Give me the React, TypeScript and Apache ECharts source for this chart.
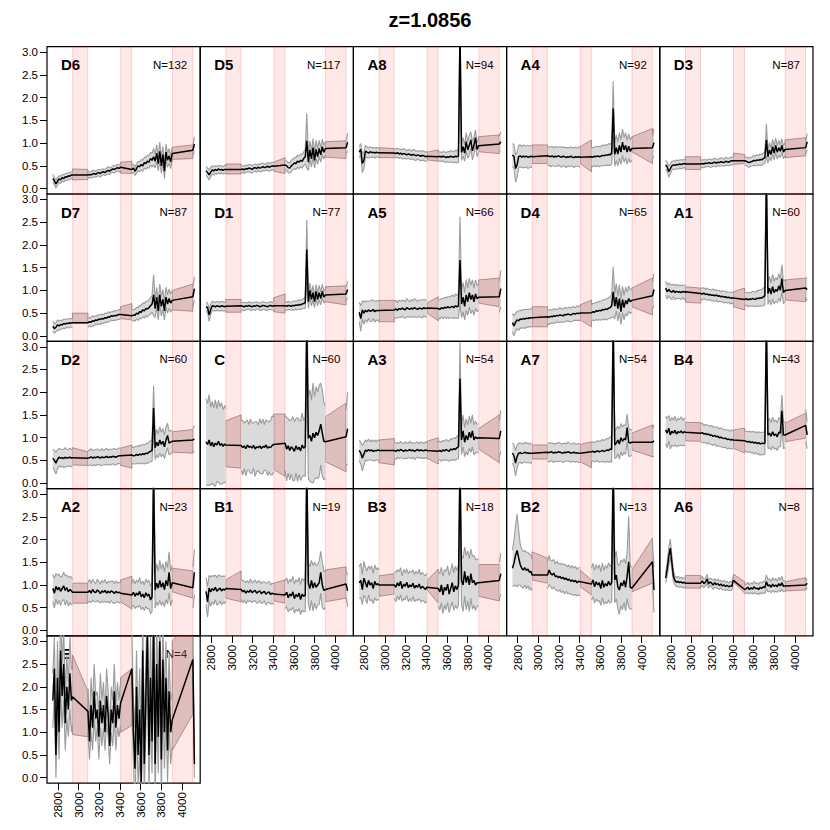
import React, { useEffect, useRef } from "react";
import * as echarts from "echarts";

// ---------- shared axis data ----------
const WAVE = [
  2750, 2765, 2780, 2795, 2810, 2825, 2840, 2855, 2870, 2885, 2900, 2915, 2930, 2940,
  3090, 3105, 3120, 3135, 3150, 3165, 3180, 3195, 3210, 3225, 3240, 3255, 3270, 3285, 3300, 3315, 3330, 3345, 3360, 3375, 3390, 3405,
  3515, 3530, 3545, 3560, 3575, 3590, 3605, 3620, 3635, 3650, 3665, 3680, 3695, 3710, 3725, 3740, 3755, 3770, 3785, 3800, 3815, 3830, 3845, 3860, 3875, 3890, 3905,
  4105, 4120,
];
const GAP_EDGES = [2940, 3090, 3405, 3515, 3905, 4105];
const PINK_BANDS = [[2942, 3087], [3407, 3513], [3907, 4104]];
const X_TICKS = [2800, 3000, 3200, 3400, 3600, 3800, 4000];
const Y_TICKS = [0, 0.5, 1, 1.5, 2, 2.5, 3];
const X_MIN = 2693.5;
const X_MAX = 4176;
const Y_MIN = -0.12;
const Y_MAX = 3.12;
const TITLE = "z=1.0856";

const PANEL_NAMES = ["D6", "D5", "A8", "A4", "D3", "D7", "D1", "A5", "D4", "A1", "D2", "C", "A3", "A7", "B4", "A2", "B1", "B3", "B2", "A6", "E"];
const PANEL_N = [132, 117, 94, 92, 87, 87, 77, 66, 65, 60, 60, 60, 54, 54, 43, 23, 19, 18, 13, 8, 4];

// ---------- per-panel data ----------
const D6_MEAN = [
  .22, .17, .10, .16, .21, .19, .24, .22, .26, .25, .28, .27, .30, .30,
  .30, .31, .30, .32, .33, .31, .34, .35, .33, .36, .37, .35, .38, .40, .38, .41, .43, .42, .44, .46, .44, .47,
  .42, .45, .38, .44, .50, .48, .53, .50, .57, .55, .60, .58, .66, .62, .70, .60, .78, .55, .82, .50, .75, .38, .80, .62, .72, .58, .77,
  .84, .98,
];
const D6_ERR = [
  .09, .08, .09, .08, .07, .08, .07, .08, .07, .08, .07, .08, .07, .07,
  .07, .06, .07, .08, .07, .06, .07, .07, .08, .07, .06, .07, .07, .08, .07, .06, .07, .08, .07, .07, .08, .07,
  .08, .09, .09, .10, .10, .11, .11, .12, .12, .13, .13, .14, .14, .15, .18, .15, .18, .16, .20, .16, .18, .16, .18, .15, .16, .14, .14,
  .12, .16,
];
const D6_BLO = [.19, .20, .34, .33, .64, .66];
const D6_BHI = [.43, .42, .58, .60, .91, .96];

const D5_MEAN = [
  .39, .35, .30, .36, .41, .39, .42, .40, .43, .41, .42, .40, .42, .42,
  .42, .43, .41, .44, .43, .45, .44, .42, .45, .46, .44, .47, .45, .46, .48, .46, .47, .49, .47, .48, .50, .49,
  .52, .50, .46, .45, .50, .53, .56, .55, .60, .58, .62, .60, .66, .70, 1.05, .58, .85, .65, .90, .62, .86, .70, .88, .74, .92, .80, .88,
  .90, 1.02,
];
const D5_ERR = [
  .10, .10, .11, .10, .09, .09, .08, .09, .08, .09, .08, .08, .09, .08,
  .08, .07, .08, .08, .07, .08, .09, .08, .07, .08, .08, .07, .08, .09, .08, .07, .08, .08, .09, .08, .08, .09,
  .10, .10, .11, .11, .12, .12, .12, .13, .13, .14, .14, .15, .15, .16, .60, .18, .20, .18, .20, .17, .20, .17, .18, .16, .17, .15, .15,
  .14, .20,
];
const D5_BLO = [.32, .32, .38, .33, .69, .66];
const D5_BHI = [.54, .54, .58, .68, 1.03, 1.05];

const A8_MEAN = [
  .80, .86, .55, .62, .82, .80, .78, .81, .79, .80, .78, .80, .79, .79,
  .78, .77, .79, .76, .78, .75, .77, .76, .74, .76, .75, .73, .75, .74, .72, .74, .73, .71, .73, .72, .70, .71,
  .70, .71, .69, .71, .70, .68, .70, .69, .71, .70, .69, .71, .70, .72, 3.40, .80, .92, .78, 1.03, .85, .95, 1.07, .83, .95, 1.12, .86, .94,
  .98, 1.03,
];
const A8_ERR = [
  .12, .13, .20, .18, .13, .12, .11, .11, .11, .10, .11, .10, .10, .10,
  .10, .09, .10, .10, .09, .10, .11, .10, .09, .10, .10, .09, .10, .11, .10, .09, .10, .10, .11, .10, .10, .11,
  .10, .10, .10, .10, .11, .11, .11, .12, .12, .12, .12, .13, .13, .14, .50, .18, .20, .18, .20, .18, .22, .18, .20, .18, .17, .16, .15,
  .17, .22,
];
const A8_BLO = [.68, .68, .63, .60, .81, .77];
const A8_BHI = [.90, .88, .80, .85, 1.14, 1.18];

const A4_MEAN = [
  .74, .70, .44, .52, .70, .72, .69, .71, .70, .71, .69, .70, .71, .70,
  .72, .71, .70, .72, .69, .71, .70, .72, .70, .69, .71, .70, .68, .70, .69, .71, .69, .68, .70, .69, .70, .69,
  .70, .69, .71, .70, .72, .70, .71, .73, .72, .74, .73, .75, .74, .78, 1.76, .75, .90, .76, .95, .80, 1.02, .85, .95, .80, .93, .82, .88,
  .90, 1.01,
];
const A4_ERR = [
  .25, .26, .30, .28, .25, .24, .23, .25, .24, .23, .25, .24, .23, .24,
  .21, .20, .22, .21, .20, .22, .21, .20, .21, .22, .20, .21, .22, .20, .21, .21, .20, .22, .21, .20, .21, .22,
  .20, .21, .20, .22, .21, .22, .21, .23, .22, .23, .22, .24, .23, .25, .60, .26, .28, .26, .28, .27, .29, .27, .28, .26, .27, .25, .25,
  .25, .30,
];
const A4_BLO = [.55, .55, .55, .37, .81, .55];
const A4_BHI = [.96, .96, .92, 1.07, 1.14, 1.32];

const D3_MEAN = [
  .52, .48, .37, .43, .50, .52, .51, .53, .52, .54, .53, .54, .55, .54,
  .54, .55, .54, .56, .55, .57, .56, .55, .57, .58, .56, .58, .57, .59, .58, .57, .60, .59, .58, .60, .61, .61,
  .61, .60, .58, .57, .59, .60, .62, .61, .63, .62, .64, .63, .66, .68, 1.07, .70, .85, .75, .92, .78, .95, .80, .90, .82, .95, .80, .86,
  .90, 1.03,
];
const D3_ERR = [
  .10, .10, .12, .11, .10, .09, .09, .10, .09, .09, .10, .09, .09, .09,
  .08, .08, .09, .08, .07, .08, .09, .08, .08, .09, .08, .07, .08, .09, .08, .08, .09, .08, .08, .09, .08, .09,
  .09, .09, .10, .10, .10, .10, .11, .11, .11, .11, .12, .12, .12, .12, .35, .14, .16, .14, .16, .15, .16, .15, .16, .14, .15, .14, .14,
  .15, .18,
];
const D3_BLO = [.42, .42, .53, .55, .68, .72];
const D3_BHI = [.70, .70, .78, .75, 1.07, 1.12];

const D7_MEAN = [
  .21, .16, .19, .24, .22, .25, .24, .27, .26, .28, .27, .29, .28, .29,
  .29, .31, .30, .33, .32, .35, .34, .37, .36, .38, .37, .40, .39, .42, .41, .44, .43, .45, .44, .46, .47, .47,
  .44, .46, .45, .50, .48, .53, .52, .57, .55, .60, .59, .62, .66, .70, .90, .60, .85, .55, .90, .65, .80, .55, .85, .70, .82, .72, .78,
  .86, 1.04,
];
const D7_ERR = [
  .11, .10, .10, .11, .10, .10, .09, .10, .10, .09, .10, .10, .09, .10,
  .10, .09, .10, .11, .10, .09, .10, .10, .11, .10, .09, .10, .10, .11, .10, .09, .10, .11, .10, .10, .11, .10,
  .12, .12, .13, .13, .14, .14, .15, .15, .16, .16, .17, .17, .18, .18, .45, .20, .22, .20, .24, .21, .22, .20, .22, .20, .21, .20, .20,
  .22, .26,
];
const D7_BLO = [.28, .28, .38, .35, .57, .54];
const D7_BHI = [.50, .50, .64, .71, 1.00, 1.14];

const D1_MEAN = [
  .64, .62, .46, .58, .66, .65, .64, .66, .65, .64, .66, .65, .64, .65,
  .66, .65, .64, .66, .65, .67, .65, .64, .66, .65, .67, .66, .64, .65, .67, .66, .65, .64, .66, .67, .65, .66,
  .66, .65, .67, .66, .65, .67, .66, .68, .67, .69, .68, .70, .71, .73, 1.90, .75, 1.00, .80, .95, .75, .98, .80, .95, .82, .98, .85, .90,
  .92, 1.02,
];
const D1_ERR = [
  .10, .11, .14, .12, .10, .10, .09, .10, .10, .09, .10, .10, .09, .10,
  .08, .08, .09, .08, .07, .08, .09, .08, .08, .09, .08, .07, .08, .09, .08, .08, .09, .08, .08, .09, .08, .09,
  .08, .09, .09, .08, .09, .09, .10, .09, .10, .10, .10, .10, .11, .12, .65, .14, .16, .14, .16, .13, .15, .14, .16, .14, .15, .13, .13,
  .15, .18,
];
const D1_BLO = [.52, .52, .53, .50, .75, .68];
const D1_BHI = [.80, .80, .84, .92, 1.08, 1.10];

const A5_MEAN = [
  .52, .38, .57, .50, .56, .53, .57, .54, .55, .58, .53, .56, .55, .56,
  .57, .59, .56, .60, .58, .61, .59, .57, .62, .60, .58, .61, .59, .62, .60, .58, .61, .60, .59, .62, .60, .61,
  .60, .58, .62, .60, .63, .61, .64, .62, .63, .65, .62, .66, .64, .66, 1.67, .70, .85, .65, .90, .75, .95, .80, .90, .75, .92, .82, .85,
  .86, 1.04,
];
const A5_ERR = [
  .22, .28, .20, .24, .21, .23, .19, .22, .24, .20, .23, .21, .22, .20,
  .18, .19, .17, .19, .18, .17, .19, .18, .20, .18, .17, .19, .18, .20, .19, .17, .18, .19, .20, .18, .19, .18,
  .20, .21, .20, .22, .21, .23, .22, .24, .23, .25, .24, .26, .25, .27, .95, .30, .32, .30, .34, .30, .32, .31, .33, .30, .31, .29, .28,
  .35, .40,
];
const A5_BLO = [.31, .31, .50, .33, .72, .64];
const A5_BHI = [.78, .78, .72, .86, 1.23, 1.27];

const D4_MEAN = [
  .29, .22, .30, .35, .33, .37, .36, .38, .37, .39, .38, .40, .39, .40,
  .42, .41, .43, .42, .44, .43, .45, .44, .46, .45, .44, .47, .46, .48, .47, .46, .48, .49, .48, .50, .49, .50,
  .51, .53, .52, .55, .54, .56, .55, .58, .57, .59, .58, .61, .62, .66, .97, .65, .85, .60, .82, .53, .80, .62, .78, .70, .82, .75, .78,
  .88, 1.02,
];
const D4_ERR = [
  .20, .22, .20, .19, .21, .20, .19, .20, .21, .19, .20, .19, .20, .19,
  .15, .16, .15, .14, .16, .15, .14, .15, .16, .15, .14, .16, .15, .14, .16, .15, .16, .15, .14, .16, .15, .16,
  .18, .18, .19, .19, .20, .20, .21, .21, .22, .22, .23, .23, .24, .25, .55, .28, .30, .27, .30, .28, .29, .27, .29, .26, .28, .26, .26,
  .30, .35,
];
const D4_BLO = [.20, .20, .35, .20, .64, .46];
const D4_BHI = [.64, .64, .68, .79, 1.05, 1.27];

const A1_MEAN = [
  1.05, .97, 1.02, .98, .96, 1.00, .95, .98, .96, .97, .95, .98, .96, .97,
  .93, .92, .94, .91, .92, .90, .91, .89, .90, .88, .90, .87, .88, .86, .87, .85, .86, .84, .85, .83, .84, .83,
  .80, .82, .79, .81, .80, .82, .81, .80, .83, .82, .84, .83, .86, .88, 3.50, .93, 1.05, .92, 1.08, .95, 1.02, .98, 1.10, 1.00, 1.26, .95, 1.00,
  1.05, 1.02,
];
const A1_ERR = [
  .15, .16, .14, .15, .16, .14, .15, .16, .14, .15, .15, .14, .16, .15,
  .12, .13, .12, .11, .13, .12, .11, .12, .13, .12, .11, .13, .12, .11, .12, .13, .12, .12, .11, .13, .12, .12,
  .14, .14, .15, .15, .15, .16, .16, .16, .17, .17, .18, .18, .19, .20, .60, .24, .26, .24, .27, .25, .26, .25, .27, .25, .30, .24, .24,
  .22, .25,
];
const A1_BLO = [.74, .72, .64, .57, .79, .75];
const A1_BHI = [1.08, 1.05, .97, 1.05, 1.23, 1.27];

const D2_MEAN = [
  .55, .50, .44, .52, .57, .55, .56, .54, .57, .55, .56, .57, .55, .56,
  .55, .56, .58, .55, .57, .56, .58, .57, .55, .58, .56, .57, .59, .56, .58, .57, .59, .58, .57, .59, .60, .60,
  .62, .60, .61, .63, .61, .64, .62, .65, .63, .66, .65, .68, .70, .72, 1.65, .78, .90, .82, .95, .85, .92, .80, .95, 1.05, .88, .90, .92,
  .95, .97,
];
const D2_ERR = [
  .20, .22, .24, .21, .19, .20, .18, .20, .21, .19, .18, .20, .19, .18,
  .17, .16, .18, .17, .16, .18, .17, .16, .17, .18, .16, .17, .18, .16, .17, .17, .16, .18, .17, .16, .17, .18,
  .18, .18, .19, .19, .19, .20, .20, .20, .21, .21, .22, .22, .23, .24, .50, .26, .28, .26, .29, .27, .28, .26, .28, .27, .26, .25, .25,
  .25, .30,
];
const D2_BLO = [.40, .39, .39, .33, .68, .66];
const D2_BHI = [.78, .69, .77, .84, 1.13, 1.18];

const C_MEAN = [
  .91, .85, .95, .82, .90, .80, .88, .84, .92, .83, .87, .81, .86, .84,
  .83, .78, .82, .76, .84, .79, .81, .77, .83, .75, .80, .78, .82, .76, .81, .79, .84, .77, .80, .78, .83, .85,
  .88, .75, .82, .72, .80, .76, .70, .82, .74, .79, .71, .84, .77, .80, 3.50, .99, 1.05, .92, 1.10, 1.00, 1.12, 1.05, 1.15, 1.30, 1.10, .92, .91,
  1.02, 1.20,
];
const C_ERR = [
  .95, .90, 1.00, .85, .90, .85, .95, .80, .90, .85, .90, .80, .85, .80,
  .55, .60, .50, .60, .55, .50, .60, .55, .50, .60, .55, .50, .60, .55, .60, .50, .55, .60, .55, .60, .65, .60,
  .60, .70, .60, .65, .60, .70, .65, .60, .70, .60, .65, .70, .60, .65, .80, .90, 1.00, .90, 1.10, .90, 1.00, .95, 1.00, .90, .95, .85, .80,
  .60, .80,
];
const C_BLO = [.36, .33, .30, .15, .47, .25];
const C_BHI = [1.37, 1.50, 1.52, 1.52, 1.46, 1.76];

const A3_MEAN = [
  .72, .66, .55, .64, .73, .70, .74, .71, .73, .70, .72, .71, .73, .72,
  .72, .70, .73, .71, .74, .72, .70, .73, .71, .72, .74, .71, .73, .70, .72, .74, .71, .73, .72, .71, .73, .72,
  .70, .72, .69, .73, .71, .74, .72, .70, .75, .73, .76, .74, .78, .80, 2.30, .95, 1.15, .90, 1.05, .95, 1.12, 1.00, 1.15, .95, 1.02, .98, 1.00,
  .98, 1.15,
];
const A3_ERR = [
  .22, .24, .28, .25, .22, .21, .23, .20, .22, .21, .23, .20, .22, .21,
  .17, .18, .16, .17, .18, .16, .17, .18, .17, .16, .18, .17, .16, .18, .17, .17, .16, .18, .17, .16, .18, .17,
  .20, .20, .21, .21, .21, .22, .22, .22, .23, .23, .24, .24, .25, .26, .80, .32, .35, .32, .36, .33, .35, .32, .35, .33, .34, .32, .30,
  .40, .45,
];
const A3_BLO = [.45, .40, .55, .42, .75, .45];
const A3_BHI = [.95, .98, .92, 1.00, 1.20, 1.50];

const A7_MEAN = [
  .66, .60, .44, .58, .66, .67, .65, .66, .68, .66, .67, .65, .66, .66,
  .68, .67, .69, .68, .66, .68, .67, .69, .68, .67, .66, .68, .67, .69, .68, .66, .67, .68, .66, .67, .66, .66,
  .69, .70, .68, .70, .71, .69, .70, .72, .70, .71, .73, .72, .75, .74, 3.50, .84, .88, .95, .86, 1.00, .92, .98, .95, 1.22, .90, .88, .90,
  .90, .93,
];
const A7_ERR = [
  .22, .24, .28, .25, .22, .21, .22, .20, .22, .21, .22, .20, .22, .21,
  .20, .21, .19, .20, .21, .19, .20, .21, .20, .19, .21, .20, .19, .21, .20, .20, .19, .21, .20, .19, .21, .20,
  .20, .21, .21, .22, .22, .23, .23, .24, .24, .25, .25, .26, .27, .28, .60, .30, .32, .30, .33, .31, .32, .30, .32, .30, .31, .29, .28,
  .30, .35,
];
const A7_BLO = [.53, .53, .47, .34, .73, .58];
const A7_BHI = [.84, .84, .85, .91, 1.10, 1.28];

const B4_MEAN = [
  1.17, 1.10, 1.21, 1.06, 1.14, 1.10, 1.16, 1.08, 1.13, 1.11, 1.15, 1.10, 1.13, 1.12,
  1.10, 1.11, 1.08, 1.09, 1.07, 1.08, 1.05, 1.06, 1.03, 1.05, 1.02, 1.03, 1.00, 1.01, .99, .98, .99, .96, .97, .95, .96, .95,
  .93, .92, .90, .92, .89, .91, .88, .90, .87, .89, .86, .88, .87, .88, 3.50, 1.06, 1.10, 1.03, 1.13, 1.05, 1.08, 1.02, 1.12, 1.10, 1.59, 1.06, 1.06,
  1.27, 1.06,
];
const B4_ERR = [
  .30, .32, .28, .31, .30, .29, .31, .28, .30, .29, .31, .28, .30, .29,
  .20, .21, .19, .20, .21, .19, .20, .21, .20, .19, .21, .20, .19, .21, .20, .20, .19, .21, .20, .19, .21, .20,
  .22, .22, .23, .22, .23, .23, .24, .23, .24, .24, .25, .24, .25, .25, .60, .30, .32, .30, .32, .30, .31, .30, .32, .30, .35, .30, .28,
  .35, .30,
];
const B4_BLO = [.93, .92, .77, .66, .91, .99];
const B4_BHI = [1.34, 1.33, 1.17, 1.21, 1.32, 1.54];

const A2_MEAN = [
  .93, .82, .97, .89, .95, .86, .92, .98, .88, .94, .85, .90, .87, .84,
  .84, .88, .82, .90, .85, .83, .89, .86, .81, .87, .84, .88, .82, .86, .83, .87, .85, .81, .86, .83, .84, .82,
  .78, .84, .75, .82, .78, .86, .74, .80, .72, .83, .76, .80, .67, .74, 3.50, .89, 1.04, .93, 1.10, .95, 1.05, .90, 1.10, .98, 1.28, .92, 1.05,
  .94, 1.28,
];
const A2_ERR = [
  .30, .33, .28, .32, .29, .31, .27, .30, .32, .28, .31, .29, .30, .28,
  .22, .24, .21, .23, .22, .20, .24, .22, .21, .23, .22, .24, .21, .22, .23, .21, .24, .22, .23, .21, .22, .23,
  .26, .28, .27, .29, .27, .30, .28, .29, .28, .30, .29, .31, .30, .32, .80, .40, .42, .38, .44, .40, .42, .38, .42, .40, .45, .38, .38,
  .45, .50,
];
const A2_BLO = [.60, .60, .63, .47, .85, .71];
const A2_BHI = [1.04, 1.04, 1.11, 1.19, 1.37, 1.31];

const B1_MEAN = [
  .86, .63, .93, .85, .92, .88, .95, .86, .90, .93, .87, .91, .89, .92,
  .90, .85, .88, .82, .87, .84, .89, .83, .86, .88, .82, .85, .87, .81, .84, .86, .80, .83, .85, .79, .82, .80,
  .78, .84, .72, .80, .76, .85, .70, .79, .74, .82, .68, .80, .75, .78, 3.50, 1.04, .92, 1.10, .93, 1.05, .95, 1.00, 1.05, 1.28, 1.00, .88, .90,
  1.02, .87,
];
const B1_ERR = [
  .30, .34, .28, .32, .29, .31, .27, .30, .32, .28, .31, .29, .30, .28,
  .22, .24, .21, .23, .22, .20, .24, .22, .21, .23, .22, .24, .21, .22, .23, .21, .24, .22, .23, .21, .22, .23,
  .30, .32, .31, .33, .31, .34, .32, .33, .32, .34, .33, .35, .34, .36, .90, .45, .48, .44, .50, .45, .48, .44, .48, .46, .50, .42, .40,
  .30, .35,
];
const B1_BLO = [.71, .63, .65, .60, .63, .71];
const B1_BHI = [1.11, 1.31, 1.04, 1.11, 1.33, 1.40];

const B3_MEAN = [
  1.05, 1.10, .90, 1.15, 1.05, .95, 1.10, 1.00, 1.05, .92, 1.08, 1.00, 1.03, 1.00,
  1.00, .95, 1.05, .98, 1.08, .92, 1.02, .97, 1.06, .94, 1.00, .96, 1.04, .93, .99, .95, 1.02, .92, .97, .94, .90, .95,
  .92, .85, 1.00, .78, .95, .88, 1.02, .80, .92, 1.05, .85, .98, .90, 1.00, 3.50, 1.10, 1.00, 1.30, 1.05, 1.20, 1.00, 1.25, 1.05, 1.10, 1.00, 1.05, 1.05,
  1.10, 1.25,
];
const B3_ERR = [
  .35, .38, .33, .37, .34, .36, .32, .35, .37, .33, .36, .34, .35, .33,
  .30, .32, .29, .31, .30, .28, .32, .30, .29, .31, .30, .32, .29, .30, .31, .29, .32, .30, .31, .29, .30, .31,
  .38, .40, .39, .41, .39, .42, .40, .41, .40, .42, .41, .43, .42, .44, 1.00, .55, .58, .54, .60, .55, .58, .54, .58, .55, .56, .52, .50,
  .40, .45,
];
const B3_BLO = [.75, .80, .90, .60, .75, .65];
const B3_BHI = [1.20, 1.25, 1.10, 1.35, 1.45, 1.45];

const B2_MEAN = [
  1.37, 1.48, 1.65, 1.76, 1.60, 1.45, 1.37, 1.33, 1.38, 1.32, 1.35, 1.28, 1.30, 1.22,
  1.22, 1.33, 1.25, 1.22, 1.26, 1.18, 1.20, 1.16, 1.19, 1.14, 1.17, 1.12, 1.15, 1.10, 1.13, 1.08, 1.11, 1.07, 1.10, 1.05, 1.08, 1.07,
  1.02, 1.11, .96, 1.07, 1.00, 1.05, .92, 1.10, .95, 1.03, .98, 1.08, 1.00, 1.05, 3.50, 1.11, 1.22, .96, .89, 1.05, .98, 1.10, .95, 1.20, 1.51, .95, .93,
  1.51, .89,
];
const B2_ERR = [
  .40, .50, .65, .80, .60, .45, .42, .40, .38, .40, .37, .39, .36, .35,
  .30, .32, .29, .31, .30, .28, .32, .30, .29, .31, .30, .32, .29, .30, .31, .29, .32, .30, .31, .29, .30, .31,
  .35, .37, .36, .38, .36, .39, .37, .38, .37, .40, .39, .41, .40, .42, 1.00, .50, .52, .48, .54, .50, .52, .48, .52, .50, 1.00, .48, .45,
  .45, .50,
];
const B2_BLO = [1.11, 1.04, .96, .78, .85, 1.04];
const B2_BHI = [1.73, 1.59, 1.33, 1.11, 1.33, 2.03];

const A6_MEAN = [
  1.15, 1.35, 1.62, 1.81, 1.50, 1.20, 1.10, 1.06, 1.08, 1.05, 1.07, 1.04, 1.06, 1.04,
  1.04, 1.09, 1.03, 1.06, 1.13, 1.02, 1.07, 1.04, 1.00, 1.05, 1.01, 1.03, .99, 1.02, .98, 1.00, .97, .99, .96, .98, .97, 1.10,
  .90, .92, .95, .90, .94, .91, .96, .92, .93, .90, .95, .92, .96, .94, 1.07, .98, 1.00, .95, 1.02, .97, 1.00, .96, 1.03, .98, 1.05, .97, .98,
  1.00, 1.04,
];
const A6_ERR = [
  .10, .15, .20, .20, .16, .12, .10, .10, .11, .10, .10, .11, .10, .10,
  .09, .10, .09, .08, .10, .09, .08, .09, .10, .09, .08, .10, .09, .08, .09, .10, .09, .09, .08, .10, .09, .09,
  .10, .10, .11, .10, .11, .11, .12, .11, .12, .11, .12, .12, .12, .13, .15, .13, .14, .12, .14, .13, .14, .12, .14, .13, .14, .12, .12,
  .10, .10,
];
const A6_BLO = [.93, .93, 1.07, .82, .87, .89];
const A6_BHI = [1.21, 1.21, 1.24, 1.07, 1.07, 1.16];

const E_MEAN = [
  1.70, 2.40, .50, 2.20, 1.00, 2.80, 1.80, 2.50, 1.20, 2.00, 1.50, 2.30, 1.70, 1.78,
  1.46, .80, 1.60, 1.10, 1.90, 1.30, 1.50, .90, 1.70, 1.20, 1.60, 1.00, 1.80, 1.40, .70, 1.50, 1.20, 1.90, 1.10, 1.60, 1.30, 1.64,
  2.40, 1.00, .20, 2.00, .50, 1.50, -.10, 2.80, .30, 1.80, 3.20, .50, 2.20, .80, 3.40, .30, 2.50, .90, 3.00, .40, 2.60, 1.00, 2.20, .60, 1.90, 1.00, 1.27,
  2.60, .30,
];
const E_ERR = [
  .60, .70, .50, .80, .60, .90, .70, .80, .60, .70, .60, .80, .70, .60,
  .50, .40, .60, .50, .60, .50, .40, .50, .60, .50, .50, .40, .60, .50, .40, .50, .50, .60, .50, .50, .40, .50,
  .80, .70, .90, .80, .70, .90, .80, .90, .70, .80, .90, .80, .90, .70, 1.00, .80, .90, .80, .90, .80, .90, .80, .80, .70, .80, .70, .60,
  .50, .30,
];
const E_BLO = [.95, .90, 1.00, 1.15, .60, 1.40];
const E_BHI = [2.70, 1.90, 2.20, 2.40, 3.00, 3.50];

// ---------- table built from the arrays ----------
const PANEL_DATA = [
  [D6_MEAN, D6_ERR, D6_BLO, D6_BHI],
  [D5_MEAN, D5_ERR, D5_BLO, D5_BHI],
  [A8_MEAN, A8_ERR, A8_BLO, A8_BHI],
  [A4_MEAN, A4_ERR, A4_BLO, A4_BHI],
  [D3_MEAN, D3_ERR, D3_BLO, D3_BHI],
  [D7_MEAN, D7_ERR, D7_BLO, D7_BHI],
  [D1_MEAN, D1_ERR, D1_BLO, D1_BHI],
  [A5_MEAN, A5_ERR, A5_BLO, A5_BHI],
  [D4_MEAN, D4_ERR, D4_BLO, D4_BHI],
  [A1_MEAN, A1_ERR, A1_BLO, A1_BHI],
  [D2_MEAN, D2_ERR, D2_BLO, D2_BHI],
  [C_MEAN, C_ERR, C_BLO, C_BHI],
  [A3_MEAN, A3_ERR, A3_BLO, A3_BHI],
  [A7_MEAN, A7_ERR, A7_BLO, A7_BHI],
  [B4_MEAN, B4_ERR, B4_BLO, B4_BHI],
  [A2_MEAN, A2_ERR, A2_BLO, A2_BHI],
  [B1_MEAN, B1_ERR, B1_BLO, B1_BHI],
  [B3_MEAN, B3_ERR, B3_BLO, B3_BHI],
  [B2_MEAN, B2_ERR, B2_BLO, B2_BHI],
  [A6_MEAN, A6_ERR, A6_BLO, A6_BHI],
  [E_MEAN, E_ERR, E_BLO, E_BHI],
];

// ---------- layout / style ----------
const LEFT0 = 47;
const TOP0 = 46.7;
const PW = 153.2;
const PH = 147.3;
const FONT = '"Liberation Sans", Arial, Helvetica, sans-serif';
const PINK_FILL = "rgba(255,0,0,0.09)";
const PINK_EDGE = "rgba(255,0,0,0.16)";
const BROWN_FILL = "rgba(160,105,105,0.33)";
const BROWN_EDGE = "rgba(150,100,100,0.65)";
const GRAY_FILL = "#DADADA";
const GRAY_LINE = "#9C9C9C";

// contiguous segments of WAVE (data gaps are > 50 Å)
const SEGS: number[][] = (() => {
  const out: number[][] = [];
  let s0 = 0;
  for (let i = 1; i <= WAVE.length; i++) {
    if (i === WAVE.length || WAVE[i] - WAVE[i - 1] > 50) {
      out.push([s0, i - 1]);
      s0 = i;
    }
  }
  return out;
})();

function bandLine(mean: number[], err: number[], sign: number) {
  const out: any[] = [];
  WAVE.forEach((x, i) => {
    out.push([x, mean[i] + sign * err[i]]);
    if (i < WAVE.length - 1 && WAVE[i + 1] - x > 50) out.push([(x + WAVE[i + 1]) / 2, null]);
  });
  return out;
}

function buildOption() {
  const grid: any[] = [];
  const xAxis: any[] = [];
  const yAxis: any[] = [];
  const series: any[] = [];
  const graphic: any[] = [];

  PANEL_NAMES.forEach((name, i) => {
    const [mean, err, blo, bhi] = PANEL_DATA[i];
    const col = i % 5;
    const row = Math.floor(i / 5);
    const left = LEFT0 + col * PW;
    const top = TOP0 + row * PH;
    const showX = (row === 3 && col >= 1) || row === 4;
    const showY = col === 0;

    grid.push({
      left, top, width: PW, height: PH,
      show: true, borderColor: "#000", borderWidth: 1.2, backgroundColor: "transparent",
      containLabel: false, outerBoundsMode: "none",
    });
    xAxis.push({
      type: "value", gridIndex: i, min: X_MIN, max: X_MAX,
      axisLine: { show: false, onZero: false },
      splitLine: { show: false },
      axisTick: { show: showX, length: 7, inside: false, lineStyle: { color: "#000", width: 1 }, customValues: X_TICKS },
      axisLabel: {
        show: showX, customValues: X_TICKS, rotate: 90, margin: 9,
        fontSize: 11.5, color: "#000", fontFamily: FONT,
        formatter: (v: number) => String(Math.round(v)),
      },
    });
    yAxis.push({
      type: "value", gridIndex: i, min: Y_MIN, max: Y_MAX,
      axisLine: { show: false, onZero: false },
      splitLine: { show: false },
      axisTick: { show: showY, length: 7, inside: false, lineStyle: { color: "#000", width: 1 }, customValues: Y_TICKS },
      axisLabel: {
        show: showY, customValues: Y_TICKS, margin: 9,
        fontSize: 11.5, color: "#000", fontFamily: FONT,
        formatter: (v: number) => v.toFixed(1),
      },
    });

    // brown interpolation bands across the gaps
    series.push({
      type: "custom", xAxisIndex: i, yAxisIndex: i, z: 2, clip: true, silent: true,
      data: [0, 1, 2].map((g) => [GAP_EDGES[2 * g], blo[2 * g]]),
      renderItem: (params: any, api: any) => {
        const g = params.dataIndex;
        const a = GAP_EDGES[2 * g];
        const b = GAP_EDGES[2 * g + 1];
        const pts = [
          api.coord([a, blo[2 * g]]),
          api.coord([b, blo[2 * g + 1]]),
          api.coord([b, bhi[2 * g + 1]]),
          api.coord([a, bhi[2 * g]]),
        ];
        return { type: "polygon", shape: { points: pts }, style: { fill: BROWN_FILL, stroke: BROWN_EDGE, lineWidth: 1 } };
      },
    });

    // gray scatter band within data segments
    series.push({
      type: "custom", xAxisIndex: i, yAxisIndex: i, z: 3, clip: true, silent: true,
      data: SEGS.map(([s]) => [WAVE[s], mean[s]]),
      renderItem: (params: any, api: any) => {
        const [s, e] = SEGS[params.dataIndex];
        const pts: number[][] = [];
        for (let k = s; k <= e; k++) pts.push(api.coord([WAVE[k], mean[k] - err[k]]));
        for (let k = e; k >= s; k--) pts.push(api.coord([WAVE[k], mean[k] + err[k]]));
        return { type: "polygon", shape: { points: pts }, style: { fill: GRAY_FILL, stroke: "none" } };
      },
    });

    // lower gray line (carries the pink gap bands)
    series.push({
      type: "line", xAxisIndex: i, yAxisIndex: i, z: 4, silent: true,
      symbol: "none", showSymbol: false, connectNulls: false,
      lineStyle: { color: GRAY_LINE, width: 1.1 },
      data: bandLine(mean, err, -1),
      markArea: {
        silent: true,
        itemStyle: { color: PINK_FILL, borderColor: PINK_EDGE, borderWidth: 1 },
        data: PINK_BANDS.map(([a, b]) => [{ xAxis: a }, { xAxis: b }]),
      },
    });
    // upper gray line
    series.push({
      type: "line", xAxisIndex: i, yAxisIndex: i, z: 4, silent: true,
      symbol: "none", showSymbol: false, connectNulls: false,
      lineStyle: { color: GRAY_LINE, width: 1.1 },
      data: bandLine(mean, err, 1),
    });
    // mean spectrum
    series.push({
      type: "line", xAxisIndex: i, yAxisIndex: i, z: 5, silent: true,
      symbol: "none", showSymbol: false,
      lineStyle: { color: "#000", width: 1.5 },
      data: WAVE.map((x, k) => [x, mean[k]]),
    });

    graphic.push({
      type: "text", x: left + 14, y: top + 18, z: 1, silent: true,
      style: { text: name, font: `bold 15px ${FONT}`, fill: "#000", align: "left", verticalAlign: "middle", textAlign: "left", textVerticalAlign: "middle" },
    });
    graphic.push({
      type: "text", x: left + PW - 13, y: top + 18, z: 1, silent: true,
      style: { text: `N=${PANEL_N[i]}`, font: `11.5px ${FONT}`, fill: "#000", align: "right", verticalAlign: "middle", textAlign: "right", textVerticalAlign: "middle" },
    });
  });

  graphic.push({
    type: "text", x: 430, y: 20, z: 10, silent: true,
    style: { text: TITLE, font: `bold 20px ${FONT}`, fill: "#000", align: "center", verticalAlign: "middle", textAlign: "center", textVerticalAlign: "middle" },
  });

  return {
    animation: false,
    backgroundColor: "#fff",
    grid, xAxis, yAxis, series, graphic,
  };
}

export default function App() {
  const ref = useRef<HTMLDivElement>(null);
  useEffect(() => {
    if (!ref.current) return;
    const chart = echarts.init(ref.current, null, { renderer: "svg" });
    chart.setOption(buildOption() as any);
    return () => chart.dispose();
  }, []);
  return (
    <div
      ref={ref}
      style={{ position: "fixed", left: 0, top: 0, width: 830, height: 830, background: "#fff" }}
    />
  );
}
